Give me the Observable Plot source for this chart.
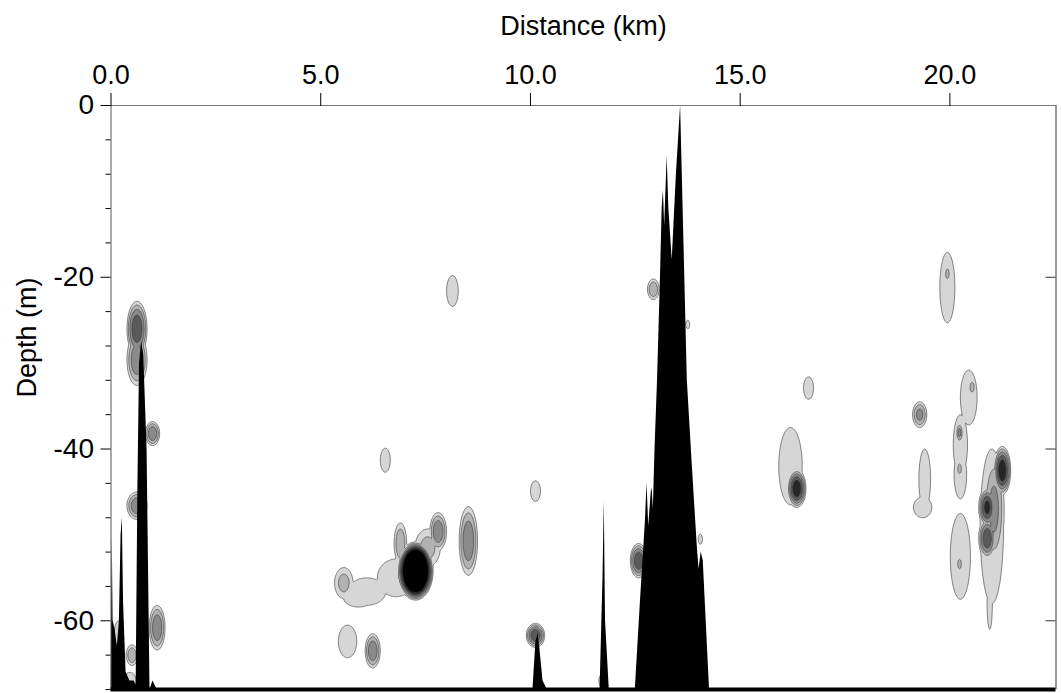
<!DOCTYPE html>
<html>
<head>
<meta charset="utf-8">
<script src="https://cdn.jsdelivr.net/npm/d3@7"></script>
<script src="https://cdn.jsdelivr.net/npm/@observablehq/plot@0.6"></script>
<style>
  html, body { margin: 0; padding: 0; background: #fff; }
  #chart svg { display: block; }
</style>
</head>
<body>
<div id="chart"></div>
<script>
// ---- axis ticks ----
const xTicks = [0, 5, 10, 15, 20];
const yMajorTicks = [0, -20, -40, -60];
const yMinorTicks = [-4, -8, -12, -16, -24, -28, -32, -36, -44, -48, -52, -56, -64, -68];
const xMax = 22.53;
const yMin = -68;

// ---- seabed profile (distance km, depth m) ----
const seabedKm = [0, 0.02, 0.03, 0.05, 0.10, 0.15, 0.20, 0.24, 0.27, 0.30, 0.36, 0.45, 0.55, 0.60,
  0.64, 0.68, 0.73, 0.78, 0.86, 0.93, 1.00, 1.10,
  10.06, 10.13, 10.18, 10.22, 10.30, 10.40,
  11.66, 11.73, 11.76, 11.79, 11.88,
  12.50, 12.62, 12.74, 12.78, 12.82, 12.88, 12.90, 12.93, 12.97, 13.03, 13.10, 13.14, 13.17, 13.20,
  13.26, 13.30, 13.38, 13.48, 13.58, 13.64, 13.74, 13.86, 13.98, 14.02, 14.07, 14.12, 14.27, 22.53];
const seabedDepth = [-68, -56, -50, -60, -61, -63, -60, -50, -48, -58, -66, -67, -67, -67.5,
  -45, -30, -27.5, -29, -40, -68, -67, -68,
  -68, -62.5, -61.5, -63, -67, -68,
  -68, -55, -46, -60, -68,
  -68, -58, -48.5, -44, -49, -45, -44.5, -47, -40, -32, -20, -12, -9.9, -14,
  -5.9, -12, -18, -8, 0, -12, -32, -42, -51.5, -54, -52, -53, -68, -68];

// ---- backscatter patches: centre (km, m), outer half-extent (km, m), peak contour level ----
const blobKm    = [0.62, 0.62, 0.99, 0.62, 1.10, 0.50, 0.18, 0.45,
  8.14, 6.54, 10.12,
  7.26, 6.80, 6.10, 5.55, 5.90, 7.55, 7.80, 6.90, 8.52,
  5.64, 6.24, 10.12, 11.73,
  12.93, 13.75, 12.58, 14.05,
  16.20, 16.35, 16.63,
  19.94, 19.94, 19.28, 19.40, 19.35,
  20.45, 20.25, 20.25, 20.53, 20.23, 20.23,
  21.00, 21.05, 21.25, 20.89, 20.89, 20.95, 20.25, 20.23];
const blobDepth = [-26.0, -29.6, -38.2, -46.6, -60.8, -64.0, -61.5, -67.0,
  -21.6, -41.3, -44.9,
  -54.2, -55.0, -56.6, -55.6, -57.4, -51.5, -49.6, -51.0, -50.7,
  -62.4, -63.5, -61.7, -67.0,
  -21.4, -25.5, -53.0, -50.5,
  -42.0, -44.6, -32.9,
  -21.2, -19.6, -36.0, -43.5, -46.8,
  -34.0, -39.5, -43.0, -32.8, -38.1, -42.3,
  -49.0, -47.0, -42.5, -46.8, -50.4, -58.5, -52.5, -53.4];
const blobHalfKm = [0.24, 0.24, 0.17, 0.24, 0.19, 0.14, 0.10, 0.15,
  0.14, 0.12, 0.12,
  0.42, 0.45, 0.45, 0.22, 0.35, 0.30, 0.20, 0.15, 0.22,
  0.22, 0.18, 0.22, 0.10,
  0.14, 0.05, 0.20, 0.05,
  0.28, 0.22, 0.12,
  0.18, 0.06, 0.17, 0.14, 0.22,
  0.20, 0.17, 0.15, 0.07, 0.08, 0.06,
  0.28, 0.24, 0.20, 0.20, 0.20, 0.06, 0.24, 0.06];
const blobHalfM = [3.2, 3.0, 1.4, 1.6, 2.6, 1.2, 1.5, 1.0,
  1.8, 1.4, 1.2,
  3.4, 2.2, 1.6, 1.8, 1.0, 2.2, 2.2, 2.4, 4.0,
  1.9, 2.0, 1.4, 0.8,
  1.2, 0.5, 2.0, 0.6,
  4.5, 2.2, 1.3,
  4.1, 0.8, 1.5, 3.5, 1.2,
  3.2, 3.5, 2.8, 0.8, 1.1, 0.8,
  9.0, 6.0, 2.8, 2.3, 2.3, 2.5, 5.0, 0.8];
const blobPeak = [5, 4, 4, 4, 4, 3, 2, 2,
  1.6, 1.6, 1.6,
  12, 2, 2, 2.5, 1.6, 2.5, 4, 3, 4,
  1.6, 4, 5, 2,
  3, 2, 5, 2,
  1.6, 6, 1.6,
  1.6, 3, 3.5, 1.6, 1.6,
  1.6, 1.6, 1.6, 3, 3.5, 3,
  1.6, 3.5, 6, 5.5, 5, 1.6, 1.6, 3];

const levels = [1, 2, 3, 4, 5, 6];
const levelColors = ["#d6d6d6", "#b2b2b2", "#8a8a8a", "#5a5a5a", "#262626", "#000000"];

function field(x, y) {
  let v = 0;
  for (let i = 0; i < blobKm.length; i++) {
    const dx = (x - blobKm[i]) / blobHalfKm[i];
    const dy = (y - blobDepth[i]) / blobHalfM[i];
    if (dx > 1.6 || dx < -1.6 || dy > 1.6 || dy < -1.6) continue;
    const p = blobPeak[i];
    const f = p - (p - 1) * (dx * dx + dy * dy);
    if (f > v) v = f;
  }
  return v;
}

const seabed = seabedKm.map((k, i) => ({km: k, depth: seabedDepth[i]}));

const chart = Plot.plot({
  width: 1061,
  height: 693,
  marginLeft: 110.5,
  marginRight: 5.5,
  marginTop: 105,
  marginBottom: 4,
  x: {domain: [0, xMax], axis: null},
  y: {domain: [yMin, 0], axis: null},
  color: {type: "ordinal", domain: levels, range: levelColors},
  style: {fontFamily: "'Liberation Sans', Arial, sans-serif", background: "#fff", color: "#000"},
  marks: [
    Plot.contour({
      x1: 0, x2: xMax, y1: yMin, y2: 0,
      fill: field,
      thresholds: levels,
      pixelSize: 1,
      stroke: "#3a3a3a",
      strokeWidth: 0.6,
      clip: true
    }),
    Plot.areaY(seabed, {x: "km", y1: yMin, y2: "depth", fill: "#000", curve: "linear", clip: true}),
    Plot.ruleY([0], {stroke: "#777", strokeWidth: 1.2}),
    Plot.ruleX([0], {stroke: "#555", strokeWidth: 1}),
    Plot.ruleX([xMax], {stroke: "#333", strokeWidth: 1}),
    Plot.ruleY([yMin], {stroke: "#000", strokeWidth: 4}),
    Plot.tickY(yMajorTicks.slice(1), {y: d => d, insetLeft: 935, stroke: "#333"}),
    Plot.axisX({anchor: "top", ticks: xTicks, tickFormat: d => d.toFixed(1), tickSize: 13, tickPadding: 9, fontSize: 27, label: null}),
    Plot.axisY({anchor: "left", ticks: yMinorTicks, tickSize: 5, tickFormat: () => "", label: null}),
    Plot.axisY({anchor: "left", ticks: yMajorTicks, tickSize: 10, tickPadding: 7, tickFormat: d => d === 0 ? "0" : "-" + Math.abs(d), fontSize: 28, label: null}),
    Plot.text(["Distance (km)"], {frameAnchor: "top", dy: -90, fontSize: 27, fill: "#000"}),
    Plot.text(["Depth (m)"], {frameAnchor: "left", dx: -84, rotate: -90, fontSize: 27, fill: "#000"})
  ]
});
document.getElementById("chart").appendChild(chart);
</script>
</body>
</html>
